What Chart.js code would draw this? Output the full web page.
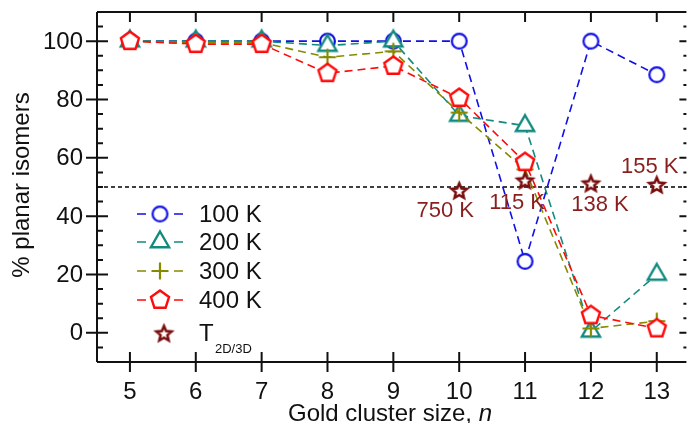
<!DOCTYPE html>
<html>
<head>
<meta charset="utf-8">
<script src="https://cdn.jsdelivr.net/npm/chart.js@4.4.1/dist/chart.umd.min.js"></script>
<style>
  html, body { margin: 0; padding: 0; background: #fff; }
  canvas { display: block; }
</style>
</head>
<body>
<canvas id="myChart" width="697" height="423"></canvas>
<script>
// cluster sizes and % planar isomers
const sizes = [5, 6, 7, 8, 9, 10, 11, 12, 13];
const planar100 = [100, 100, 100, 100, 100, 100, 24.5, 100, 88.5];
const planar200 = [100, 100, 100, 98.5, 100, 74.5, 71, 0.5, 20];
const planar300 = [100, 99.5, 99.5, 94.5, 96.5, 75.5, 56, 1.5, 4];
const planar400 = [100, 99, 99, 89, 91.5, 80.5, 58.5, 6, 1.5];

// 2D/3D transition temperatures
const tSizes = [10, 11, 12, 13];
const tValues = [48.5, 52, 51, 50.5];
const tLabels = ['750 K', '115 K', '138 K', '155 K'];

const xTicks = [5, 6, 7, 8, 9, 10, 11, 12, 13];
const yTicks = [0, 20, 40, 60, 80, 100];
const seriesNames = ['100 K', '200 K', '300 K', '400 K'];

const FONT = '"Liberation Sans", Arial, sans-serif';

// open markers drawn on small canvases, used as point styles and in the legend
const makeMarker = (kind, color, r, lw) => {
	const s = Math.ceil(2 * r + lw + 4);
	const c = document.createElement('canvas');
	c.width = c.height = s;
	const g = c.getContext('2d');
	const m = s / 2;
	g.strokeStyle = color;
	g.lineWidth = lw;
	g.fillStyle = '#fff';
	g.lineJoin = 'miter';
	g.beginPath();
	const poly = (n, rad, inner) => {
		const pts = inner ? n * 2 : n;
		for (let i = 0; i < pts; i++) {
			const a = -Math.PI / 2 + i * 2 * Math.PI / pts;
			const rr = inner && i % 2 ? rad * inner : rad;
			const px = m + Math.cos(a) * rr, py = m + Math.sin(a) * rr;
			i ? g.lineTo(px, py) : g.moveTo(px, py);
		}
		g.closePath();
	};
	if (kind === 'circle') g.arc(m, m, r, 0, Math.PI * 2);
	if (kind === 'triangle') poly(3, r);
	if (kind === 'pentagon') poly(5, r);
	if (kind === 'star') poly(5, r, 0.45);
	if (kind === 'plus') {
		g.moveTo(m - r, m); g.lineTo(m + r, m);
		g.moveTo(m, m - r); g.lineTo(m, m + r);
		g.stroke();
		return c;
	}
	g.fill();
	g.stroke();
	return c;
};

const colors = ['#1010e6', '#138a80', '#858a00', '#ff0a0a'];
const starColor = '#7a0c0c';
const markers = [
	makeMarker('circle', colors[0], 7.4, 2.2),
	makeMarker('triangle', colors[1], 10.5, 2.4),
	makeMarker('plus', colors[2], 8.5, 2.2),
	makeMarker('pentagon', colors[3], 9.5, 2.4),
];
const starMarker = makeMarker('star', starColor, 8, 2.5);

const toPoints = (xs, ys) => xs.map((x, i) => ({ x, y: ys[i] }));

const chartDecor = {
	id: 'chartDecor',
	beforeDatasetsDraw(chart) {
		const { ctx, chartArea: a, scales: { y } } = chart;
		// 50 % reference line
		ctx.save();
		ctx.strokeStyle = '#000';
		ctx.lineWidth = 1.5;
		ctx.setLineDash([4, 3]);
		ctx.beginPath();
		ctx.moveTo(a.left, y.getPixelForValue(50));
		ctx.lineTo(a.right, y.getPixelForValue(50));
		ctx.stroke();
		ctx.restore();
	},
	afterDatasetsDraw(chart) {
		const { ctx, chartArea: a, scales: { x, y } } = chart;
		ctx.save();
		ctx.strokeStyle = '#111';
		ctx.lineWidth = 2;
		ctx.beginPath();
		// frame: left, bottom, top
		ctx.moveTo(a.left, a.top); ctx.lineTo(a.left, a.bottom);
		ctx.moveTo(a.left, a.bottom); ctx.lineTo(a.right, a.bottom);
		ctx.moveTo(a.left, a.top); ctx.lineTo(a.right, a.top);
		// x ticks
		xTicks.forEach((v) => {
			const px = x.getPixelForValue(v);
			ctx.moveTo(px, a.bottom - 10); ctx.lineTo(px, a.bottom + 10);
			ctx.moveTo(px, a.top); ctx.lineTo(px, a.top + 10);
		});
		// y ticks, major and minor
		for (let v = -5; v <= 105; v += 5) {
			const py = y.getPixelForValue(v);
			const major = v % 20 === 0;
			if (major) {
				ctx.moveTo(a.left - 11, py); ctx.lineTo(a.left + 11, py);
				ctx.moveTo(a.right - 7, py); ctx.lineTo(a.right, py);
			} else {
				ctx.moveTo(a.left, py); ctx.lineTo(a.left + 6, py);
				ctx.moveTo(a.right - 3, py); ctx.lineTo(a.right, py);
			}
		}
		ctx.stroke();

		// tick labels
		ctx.fillStyle = '#111';
		ctx.font = '24px ' + FONT;
		ctx.textAlign = 'center';
		ctx.textBaseline = 'middle';
		xTicks.forEach((v) => ctx.fillText(String(v), x.getPixelForValue(v), a.bottom + 30));
		ctx.textAlign = 'right';
		yTicks.forEach((v) => ctx.fillText(String(v), a.left - 14, y.getPixelForValue(v) + 1));

		// axis titles
		ctx.textAlign = 'left';
		ctx.textBaseline = 'alphabetic';
		const t1 = 'Gold cluster size, ';
		ctx.font = '24px ' + FONT;
		const w1 = ctx.measureText(t1).width;
		ctx.font = 'italic 24px ' + FONT;
		const w2 = ctx.measureText('n').width;
		const x0 = 390 - (w1 + w2) / 2;
		ctx.font = '24px ' + FONT;
		ctx.fillText(t1, x0, 421);
		ctx.font = 'italic 24px ' + FONT;
		ctx.fillText('n', x0 + w1, 421);

		ctx.save();
		ctx.translate(29, 185);
		ctx.rotate(-Math.PI / 2);
		ctx.textAlign = 'center';
		ctx.font = '24px ' + FONT;
		ctx.fillText('% planar isomers', 0, 0);
		ctx.restore();

		// legend
		const rows = [214, 242, 271, 300];
		ctx.font = '24px ' + FONT;
		ctx.textBaseline = 'middle';
		ctx.textAlign = 'left';
		seriesNames.forEach((name, i) => {
			const ry = rows[i];
			ctx.strokeStyle = colors[i];
			ctx.lineWidth = 1.6;
			ctx.beginPath();
			ctx.moveTo(137, ry); ctx.lineTo(146, ry);
			ctx.moveTo(174, ry); ctx.lineTo(183, ry);
			ctx.stroke();
			const mk = markers[i];
			ctx.drawImage(mk, 160 - mk.width / 2, ry - mk.height / 2);
			ctx.fillStyle = '#111';
			ctx.fillText(name, 199, ry + 1);
		});
		ctx.drawImage(starMarker, 164 - starMarker.width / 2, 334 - starMarker.height / 2);
		ctx.fillStyle = '#111';
		ctx.fillText('T', 199, 334);
		ctx.font = '13px ' + FONT;
		ctx.fillText('2D/3D', 215, 349);

		// transition temperature labels
		const offsets = [[-14, 20], [-8, 22], [9, 21], [-7, -19]];
		ctx.font = '22px ' + FONT;
		ctx.textAlign = 'center';
		ctx.fillStyle = '#8a1e1e';
		tSizes.forEach((s, i) => {
			const px = x.getPixelForValue(s);
			const py = y.getPixelForValue(tValues[i]);
			ctx.fillText(tLabels[i], px + offsets[i][0], py + offsets[i][1]);
		});
		ctx.restore();
	},
};

const series = [planar100, planar200, planar300, planar400];
const datasets = series.map((vals, i) => ({
	label: seriesNames[i],
	data: toPoints(sizes, vals),
	borderColor: colors[i],
	borderWidth: 1.6,
	borderDash: [8, 5],
	pointStyle: markers[i],
	pointRadius: 9,
	fill: false,
	tension: 0,
	order: 4 - i,
	clip: false,
}));
datasets.push({
	label: 'T2D/3D',
	data: toPoints(tSizes, tValues),
	showLine: false,
	pointStyle: starMarker,
	pointRadius: 9,
	order: 0,
	clip: false,
});

new Chart(document.getElementById('myChart'), {
	type: 'line',
	data: { datasets },
	options: {
		responsive: false,
		animation: false,
		layout: { padding: { left: 97, right: 0, top: 12, bottom: 61 } },
		scales: {
			x: { type: 'linear', min: 4.5, max: 13.45, display: false },
			y: { min: -10, max: 110, display: false },
		},
		plugins: { legend: { display: false }, tooltip: { enabled: false } },
	},
	plugins: [chartDecor],
});
</script>
</body>
</html>
